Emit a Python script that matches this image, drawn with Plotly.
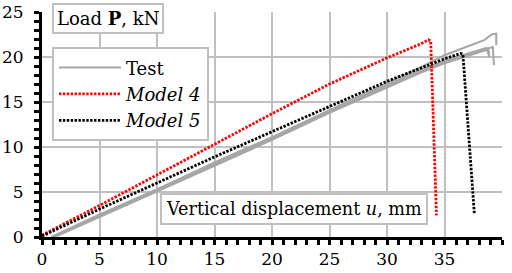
import plotly.graph_objects as go

# ---- data ----
test1_u = [1.0, 5, 10, 15, 20, 25, 30, 33, 35, 37, 38.5, 39.1, 39.5, 39.5]
test1_p = [0, 2.4, 5.3, 8.3, 11.1, 14.1, 17.1, 18.9, 20.2, 21.2, 21.9, 22.5, 22.6, 21.3]
test2_u = [0.9, 5, 10, 15, 20, 25, 30, 33, 35, 37, 38.9, 39.2, 39.3]
test2_p = [0, 2.3, 5.1, 8.0, 10.9, 13.9, 16.7, 18.4, 19.5, 20.3, 21.0, 21.1, 19.1]
test3_u = [1.1, 5, 10, 15, 20, 25, 30, 33, 35, 37, 38.7, 38.9]
test3_p = [0, 2.2, 5.0, 7.9, 10.8, 13.8, 16.6, 18.3, 19.3, 20.1, 20.8, 20.0]
test4_u = [0.8, 5, 10, 15, 20, 25, 30, 33, 35, 37, 38.6, 38.8, 38.9]
test4_p = [0, 2.5, 5.3, 8.2, 11.0, 14.0, 16.9, 18.6, 19.6, 20.4, 21.0, 20.9, 20.3]

model4_u = [0, 5, 10, 15, 20, 25, 30, 33.0, 33.6, 33.8, 34.3]
model4_p = [0.2, 3.5, 6.9, 10.3, 13.7, 17.0, 19.9, 21.5, 21.9, 21.8, 2.4]
model5_u = [0, 5, 10, 15, 20, 25, 30, 35, 36.4, 36.6, 37.6]
model5_p = [0.1, 3.1, 6.0, 8.9, 11.7, 14.5, 17.3, 19.8, 20.4, 20.3, 2.5]

x_ticks = [0, 5, 10, 15, 20, 25, 30, 35, 40]
y_ticks = [0, 5, 10, 15, 20, 25]

FONT = "DejaVu Serif"
GRID = "#c0c0c0"
TESTC = "#a6a6a6"

fig = go.Figure()
tests = [(test1_u, test1_p), (test2_u, test2_p), (test3_u, test3_p), (test4_u, test4_p)]
for i, (u, p) in enumerate(tests):
    fig.add_trace(go.Scatter(x=u, y=p, mode="lines", name="Test",
                             line=dict(color=TESTC, width=2),
                             showlegend=(i == 0), legendgroup="test"))
fig.add_trace(go.Scatter(x=model4_u, y=model4_p, mode="lines", name="<i>Model 4</i>",
                         line=dict(color="#ff0000", width=2.8, dash="2.4px,1.5px"),
                         legendgroup="m4"))
fig.add_trace(go.Scatter(x=model5_u, y=model5_p, mode="lines", name="<i>Model 5</i>",
                         line=dict(color="#000000", width=2.8, dash="2.4px,1.5px"),
                         legendgroup="m5"))

axis_common = dict(
    showgrid=True, gridcolor=GRID, gridwidth=2, zeroline=False,
    showline=True, linecolor="black", linewidth=3, automargin=False,
    ticks="outside", ticklen=5, tickwidth=2.5, tickcolor="black",
    tickfont=dict(family=FONT, size=17, color="black"),
    minor=dict(dtick=1, ticks="outside", ticklen=5, tickwidth=2.5,
               tickcolor="black", showgrid=False),
)
fig.update_xaxes(range=[0, 40], tickvals=x_ticks, ticktext=[str(v) for v in x_ticks],
                 ticklabelstandoff=0, **axis_common)
fig.update_yaxes(range=[0, 25], tickvals=y_ticks, ticktext=[str(v) for v in y_ticks],
                 ticklabelstandoff=7, **axis_common)

fig.update_layout(
    width=512, height=273,
    margin=dict(l=42, r=10, t=12, b=36),
    paper_bgcolor="white", plot_bgcolor="white",
    font=dict(family=FONT, size=18, color="black"),
    showlegend=True,
    legend=dict(x=0.0217, y=0.843, xanchor="left", yanchor="top",
                bgcolor="white", bordercolor=GRID, borderwidth=2,
                font=dict(family=FONT, size=18, color="black"),
                itemwidth=62, traceorder="grouped", tracegroupgap=0),
    annotations=[
        dict(text="Load <b>P</b>, kN", xref="paper", yref="paper",
             x=0.0217, y=1.0387, xanchor="left", yanchor="top", showarrow=False,
             bgcolor="white", bordercolor=GRID, borderwidth=2, borderpad=3,
             font=dict(family=FONT, size=18, color="black")),
        dict(text="Vertical displacement <i>u</i>, mm", xref="paper", yref="paper",
             x=0.2565, y=0.194, xanchor="left", yanchor="top", showarrow=False,
             bgcolor="white", bordercolor=GRID, borderwidth=2, borderpad=4,
             font=dict(family=FONT, size=17.6, color="black")),
    ],
)

fig.write_html("out.html", config={"displayModeBar": False},
               post_script="document.body.style.margin='0';")
